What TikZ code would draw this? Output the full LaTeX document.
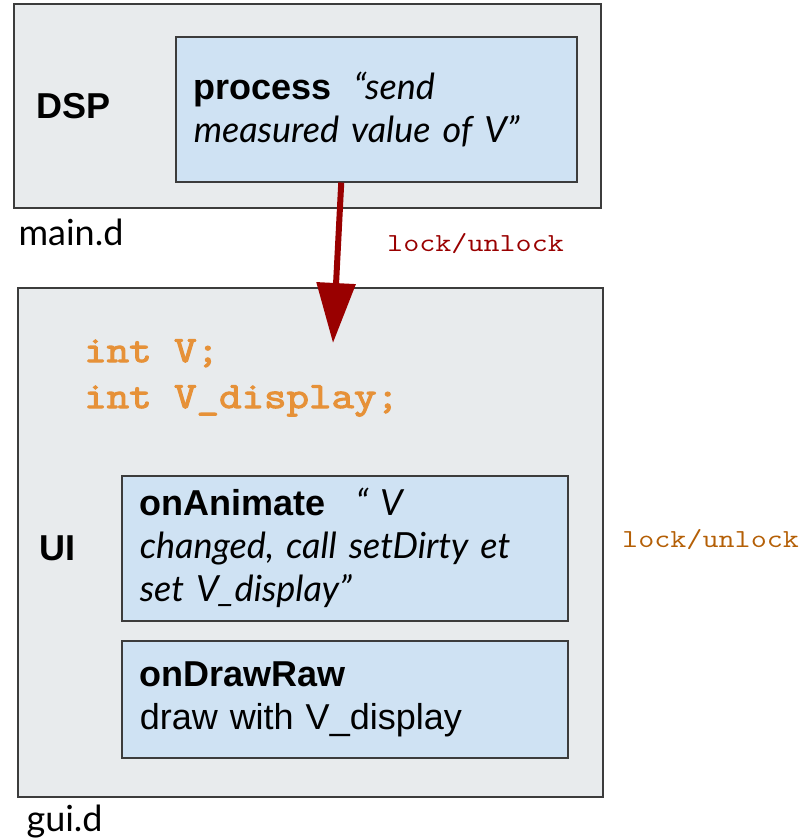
\documentclass[tikz,border=0pt]{standalone}
\usepackage{fontspec}
\setmainfont{Lato}
\newfontfamily\arialfont{Liberation Sans}
\newfontfamily\codefont{Latin Modern Mono}[FakeStretch=1.2]
\newfontfamily\codeboldfont{Latin Modern Mono}[FakeStretch=1.18, FakeBold=3]
\usetikzlibrary{arrows.meta}
\definecolor{boxgray}{HTML}{E8EBED}
\definecolor{boxblue}{HTML}{CFE2F3}
\definecolor{edgegray}{HTML}{3C3C3C}
\definecolor{lockred}{HTML}{990000}
\definecolor{codeorange}{HTML}{E69138}
\definecolor{lockbrown}{HTML}{B45F06}
\begin{document}
\begin{tikzpicture}[x=1pt, y=-1pt,
    module/.style={draw=edgegray, line width=1.5pt, fill=boxgray, anchor=north west, inner sep=0pt},
    func/.style={draw=edgegray, line width=1.5pt, fill=boxblue, anchor=north west,
        inner xsep=18pt, inner ysep=0pt, text width=#1, align=left,
        font=\fontsize{36}{43}\selectfont},
    bigtxt/.style={anchor=base west, font=\fontsize{36}{43}\selectfont},
    locktxt/.style={anchor=base west, font=\codefont\fontsize{26}{30}\selectfont}]
    \useasboundingbox (0,0) rectangle (809,838);
% DSP thread
\node[module, minimum width=587pt, minimum height=204pt] (dsp) at (13,3) {};
\node[func=365pt, minimum height=145pt] (process) at (175,36)
    {{\arialfont\bfseries process}\hspace{22pt}{\itshape “send}\\
     {\itshape measured value of V”}};
\node[bigtxt, font=\arialfont\bfseries\fontsize{36}{43}\selectfont] (dsplabel) at (33,118) {DSP};
\node[bigtxt] (mainlabel) at (15,245) {main.d};
% UI thread
\node[module, minimum width=585pt, minimum height=509pt] (gui) at (17,287) {};
\node[anchor=base west, text=codeorange, align=left, inner xsep=0pt,
    font=\codeboldfont\fontsize{37}{46}\selectfont] (vars) at (84,408)
    {int V;\\int V\_display;};
\node[func=410pt, minimum height=145pt] (animate) at (121,475)
    {{\arialfont\bfseries onAnimate}\hspace{30pt}{\itshape “ V}\\
     {\itshape changed, call setDirty et}\\
     {\itshape set V\_display”}};
\node[func=410pt, minimum height=117pt] (drawraw) at (121,640)
    {{\arialfont\bfseries onDrawRaw}\\
     {\arialfont draw with V\_display}};
\node[bigtxt, font=\arialfont\bfseries\fontsize{36}{43}\selectfont] (uilabel) at (36,560) {UI};
\node[bigtxt] (guilabel) at (23,831) {gui.d};
% locks
\coordinate (tip) at (333,343);
\draw[lockred, line width=6pt, -{Triangle[width=38pt, length=60pt]}]
    ([xshift=-35pt]process.south) -- (tip);
\node[locktxt, text=lockred, inner xsep=0pt] (lockmain) at (387,251) {lock/unlock};
\node[locktxt, text=lockbrown, inner xsep=0pt] (lockgui) at (622,547) {lock/unlock};
\end{tikzpicture}
\end{document}
